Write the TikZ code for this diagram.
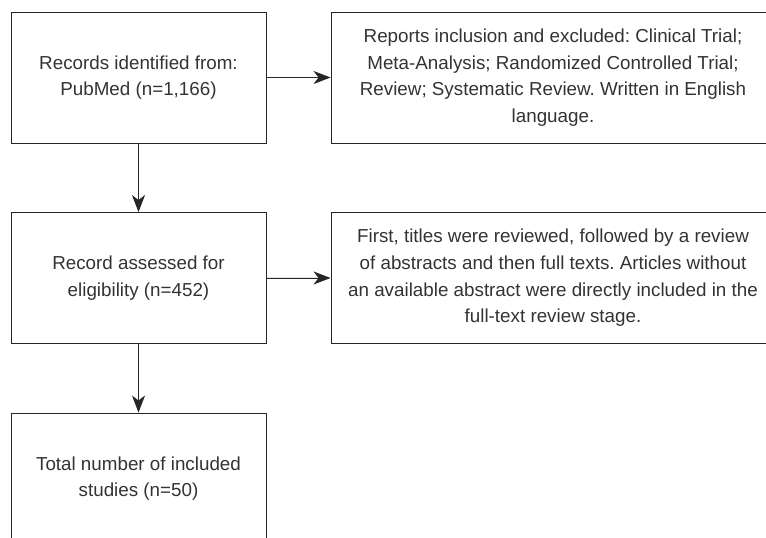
\documentclass[tikz,border=0pt]{standalone}
\usepackage{fontspec}
\setmainfont{Liberation Sans}
\usetikzlibrary{arrows.meta}

\begin{document}
\frenchspacing
\begin{tikzpicture}[
        x=1pt, y=1pt,
        box/.style={draw=black!85, line width=0.9pt, minimum height=131pt,
            align=center, text=black!80, inner sep=0pt,
            font=\fontsize{18.8}{26.7}\selectfont},
        leftbox/.style={box, minimum width=255pt},
        rightbox/.style={box, minimum width=444pt},
        link/.style={-{Stealth[length=17pt,width=13pt,inset=5pt]}, draw=black!85, fill=black!85, line width=0.9pt}
        ]
            % picture is cut at the right and at the bottom
            \useasboundingbox (0, 0) rectangle (766, 538);
            \clip (0, 0) rectangle (766, 538);

            \node[leftbox] (records) at (138.5, 460.5) {Records identified from:\\PubMed (n=1,166)};
            \node[rightbox] (reports) at (553, 460.5) {Reports inclusion and excluded: Clinical Trial;\\Meta-Analysis; Randomized Controlled Trial;\\Review; Systematic Review. Written in English\\language.};

            \node[leftbox] (assessed) at (138.5, 260) {Record assessed for\\eligibility (n=452)};
            \node[rightbox] (screening) at (553, 260) {First, titles were reviewed, followed by a review\\of abstracts and then full texts. Articles without\\an available abstract were directly included in the\\full-text review stage.};

            \node[leftbox] (included) at (138.5, 59.5) {Total number of included\\studies (n=50)};

            \draw[link] (records) -- (reports);
            \draw[link] (records) -- (assessed);
            \draw[link] (assessed) -- (screening);
            \draw[link] (assessed) -- (included);
        \end{tikzpicture}
\end{document}
